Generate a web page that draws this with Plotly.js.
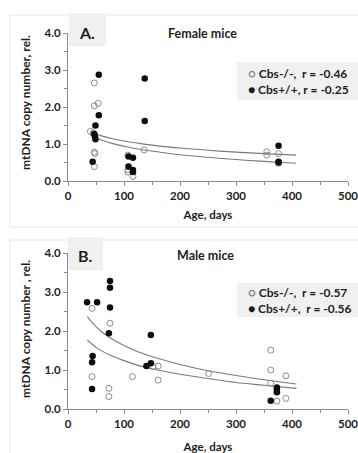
<!DOCTYPE html>
<html><head><meta charset="utf-8">
<script src="https://cdn.plot.ly/plotly-3.0.1.min.js"></script>
<style>html,body{margin:0;padding:0;background:#fff}#chart{width:358px;height:453px}</style>
</head><body><div id="chart"></div>
<script>
// Female mice (panel A)
const femaleKoAge = [47, 47, 54, 40, 45, 47, 48, 47, 107, 107, 107, 116, 136, 355, 355, 376, 376];
const femaleKoVal = [2.65, 2.03, 2.10, 1.34, 1.30, 0.78, 0.74, 0.39, 0.70, 0.30, 0.24, 0.12, 0.84, 0.79, 0.70, 0.74, 0.48];
const femaleWtAge = [55, 55, 49, 47, 48, 49, 44, 137, 137, 108, 116, 108, 116, 116, 376, 376, 376];
const femaleWtVal = [2.87, 1.78, 1.50, 1.27, 1.20, 1.13, 0.52, 2.77, 1.62, 0.66, 0.63, 0.39, 0.30, 0.24, 0.95, 0.52, 0.50];
// Male mice (panel B)
const maleKoAge = [43, 75, 43, 73, 73, 115, 152, 161, 161, 251, 362, 362, 362, 389, 389, 373];
const maleKoVal = [2.58, 2.20, 0.83, 0.53, 0.32, 0.83, 1.09, 1.10, 0.74, 0.91, 1.51, 1.00, 0.66, 0.85, 0.27, 0.20];
const maleWtAge = [34, 52, 75, 75, 75, 73, 44, 43, 43, 140, 148, 148, 362, 373, 373, 373];
const maleWtVal = [2.74, 2.74, 3.28, 3.11, 2.60, 1.94, 1.36, 1.20, 0.51, 1.10, 1.17, 1.90, 0.21, 0.55, 0.49, 0.43];
// Trend lines
const femaleFitAge = [40, 50, 60, 80, 100, 130, 160, 200, 250, 300, 350, 407];
const femaleFitUpper = [1.33, 1.27, 1.22, 1.14, 1.08, 1.01, 0.95, 0.89, 0.83, 0.78, 0.74, 0.70];
const femaleFitLower = [1.24, 1.17, 1.11, 1.01, 0.94, 0.85, 0.79, 0.71, 0.64, 0.58, 0.53, 0.48];
const maleFitAge = [34.5, 40, 50, 60, 80, 100, 130, 160, 200, 250, 300, 350, 408];
const maleFitUpper = [2.37, 2.27, 2.11, 1.98, 1.78, 1.63, 1.44, 1.30, 1.14, 0.98, 0.86, 0.75, 0.64];
const maleFitLower = [1.77, 1.70, 1.58, 1.49, 1.35, 1.24, 1.10, 1.00, 0.89, 0.78, 0.68, 0.61, 0.53];
// Labels
const xTickVals = [0, 100, 200, 300, 400, 500];
const yTickVals = [0, 1, 2, 3, 4];
const yTitleA = "mtDNA copy number, rel.";
const yTitleB = "mtDNA copy number , rel.";
const legendA = ["Cbs-/-,\u00a0\u00a0r = -0.46", "Cbs+/+, r = -0.25"];
const legendB = ["Cbs-/-,\u00a0\u00a0r = -0.57", "Cbs+/+,\u00a0\u00a0r = -0.56"];

const W = 358, H = 453;
const px = v => v / W;
const py = v => 1 - v / H;
const FONT = "Lato, 'Open Sans', sans-serif";
const DARK = "#1e1e1e";

const openMarker = {symbol: "circle-open", size: 6, color: "#8c8c8c", line: {width: 1, color: "#8c8c8c"}};
const fillMarker = {symbol: "circle", size: 6.5, color: "#0d0d0d", line: {width: 0}};
const fitLine = {color: "#7a7a7a", width: 1.1, shape: "spline"};

const traces = [
  {x: femaleFitAge, y: femaleFitUpper, mode: "lines", line: fitLine, xaxis: "x", yaxis: "y", showlegend: false, hoverinfo: "skip"},
  {x: femaleFitAge, y: femaleFitLower, mode: "lines", line: fitLine, xaxis: "x", yaxis: "y", showlegend: false, hoverinfo: "skip"},
  {x: femaleKoAge, y: femaleKoVal, mode: "markers", marker: openMarker, xaxis: "x", yaxis: "y", name: legendA[0], showlegend: false},
  {x: femaleWtAge, y: femaleWtVal, mode: "markers", marker: fillMarker, xaxis: "x", yaxis: "y", name: legendA[1], showlegend: false},
  {x: maleFitAge, y: maleFitUpper, mode: "lines", line: fitLine, xaxis: "x2", yaxis: "y2", showlegend: false, hoverinfo: "skip"},
  {x: maleFitAge, y: maleFitLower, mode: "lines", line: fitLine, xaxis: "x2", yaxis: "y2", showlegend: false, hoverinfo: "skip"},
  {x: maleKoAge, y: maleKoVal, mode: "markers", marker: openMarker, xaxis: "x2", yaxis: "y2", name: legendB[0], showlegend: false},
  {x: maleWtAge, y: maleWtVal, mode: "markers", marker: fillMarker, xaxis: "x2", yaxis: "y2", name: legendB[1], showlegend: false}
];

function xAxis(anchor, standoff) {
  return {
    domain: [px(68), px(348)], anchor: anchor, range: [0, 500],
    tickvals: xTickVals, ticks: "outside", ticklen: 4, tickcolor: "#8c8c8c",
    ticklabeloverflow: "allow",
    minor: {dtick: 50, ticks: "outside", ticklen: 3, tickcolor: "#8c8c8c"},
    showline: true, linecolor: "#8c8c8c", linewidth: 1, showgrid: false, zeroline: false,
    tickfont: {family: FONT, size: 11.5, color: DARK, weight: "bold"},
    title: {text: "Age, days", font: {family: FONT, size: 11.5, color: DARK, weight: "bold"}, standoff: standoff}
  };
}
function yAxis(anchor, dom) {
  return {
    domain: dom, anchor: anchor, range: [0, 4],
    tickvals: yTickVals, tickformat: ".1f", ticks: "outside", ticklen: 4, tickcolor: "#8c8c8c",
    minor: {dtick: 0.5, ticks: "outside", ticklen: 3, tickcolor: "#8c8c8c"},
    showline: true, linecolor: "#8c8c8c", linewidth: 1, showgrid: false, zeroline: false,
    tickfont: {family: FONT, size: 11.5, color: DARK, weight: "bold"}
  };
}

const annFont = (s) => ({family: FONT, size: s, color: DARK, weight: "bold"});

const layout = {
  width: W, height: H,
  margin: {l: 0, r: 0, t: 0, b: 0, pad: 0},
  paper_bgcolor: "#fff", plot_bgcolor: "rgba(0,0,0,0)",
  showlegend: false,
  xaxis: xAxis("y", 10),
  yaxis: yAxis("x", [py(181), py(33)]),
  xaxis2: xAxis("y2", 14),
  yaxis2: yAxis("x2", [py(409), py(253)]),
  shapes: [
    {type: "rect", xref: "paper", yref: "paper", x0: px(10), x1: 1.05, y0: py(227), y1: py(15), line: {color: "#e6e6e6", width: 1}, layer: "below"},
    {type: "rect", xref: "paper", yref: "paper", x0: px(10), x1: 1.05, y0: -0.05, y1: py(240), line: {color: "#e6e6e6", width: 1}, layer: "below"},
    {type: "rect", xref: "paper", yref: "paper", x0: px(69), x1: px(106), y0: py(46), y1: py(13), fillcolor: "#f0f0f0", line: {width: 0}, layer: "below"},
    {type: "rect", xref: "paper", yref: "paper", x0: px(68), x1: px(103), y0: py(270), y1: py(237), fillcolor: "#f0f0f0", line: {width: 0}, layer: "below"},
    {type: "rect", xref: "paper", yref: "paper", x0: px(237), x1: 1.05, y0: py(100), y1: py(62), fillcolor: "#f0f0f0", line: {width: 0}, layer: "below"},
    {type: "rect", xref: "paper", yref: "paper", x0: px(237), x1: 1.05, y0: py(317), y1: py(283), fillcolor: "#f0f0f0", line: {width: 0}, layer: "below"}
  ],
  annotations: [
    {xref: "paper", yref: "paper", x: px(25), y: py(103), xanchor: "center", yanchor: "middle", textangle: -90, text: yTitleA, showarrow: false, font: annFont(12)},
    {xref: "paper", yref: "paper", x: px(25), y: py(329), xanchor: "center", yanchor: "middle", textangle: -90, text: yTitleB, showarrow: false, font: annFont(12)},
    {xref: "paper", yref: "paper", x: px(87), y: py(32), xanchor: "center", yanchor: "middle", text: "A.", showarrow: false, font: annFont(16)},
    {xref: "paper", yref: "paper", x: px(85), y: py(255), xanchor: "center", yanchor: "middle", text: "B.", showarrow: false, font: annFont(16)},
    {xref: "paper", yref: "paper", x: px(202), y: py(33), xanchor: "center", yanchor: "middle", text: "Female mice", showarrow: false, font: annFont(12.5)},
    {xref: "paper", yref: "paper", x: px(205), y: py(255), xanchor: "center", yanchor: "middle", text: "Male mice", showarrow: false, font: annFont(12.5)},
    {xref: "paper", yref: "paper", x: px(246), y: py(81), xanchor: "left", yanchor: "middle", align: "left", showarrow: false,
     text: "<span style='color:#8c8c8c'>○</span> " + legendA[0] + "<br>● " + legendA[1], font: annFont(12)},
    {xref: "paper", yref: "paper", x: px(246), y: py(300), xanchor: "left", yanchor: "middle", align: "left", showarrow: false,
     text: "<span style='color:#8c8c8c'>○</span> " + legendB[0] + "<br>● " + legendB[1], font: annFont(12)}
  ]
};

Plotly.newPlot("chart", traces, layout, {displayModeBar: false, staticPlot: true});
</script>
</body></html>
